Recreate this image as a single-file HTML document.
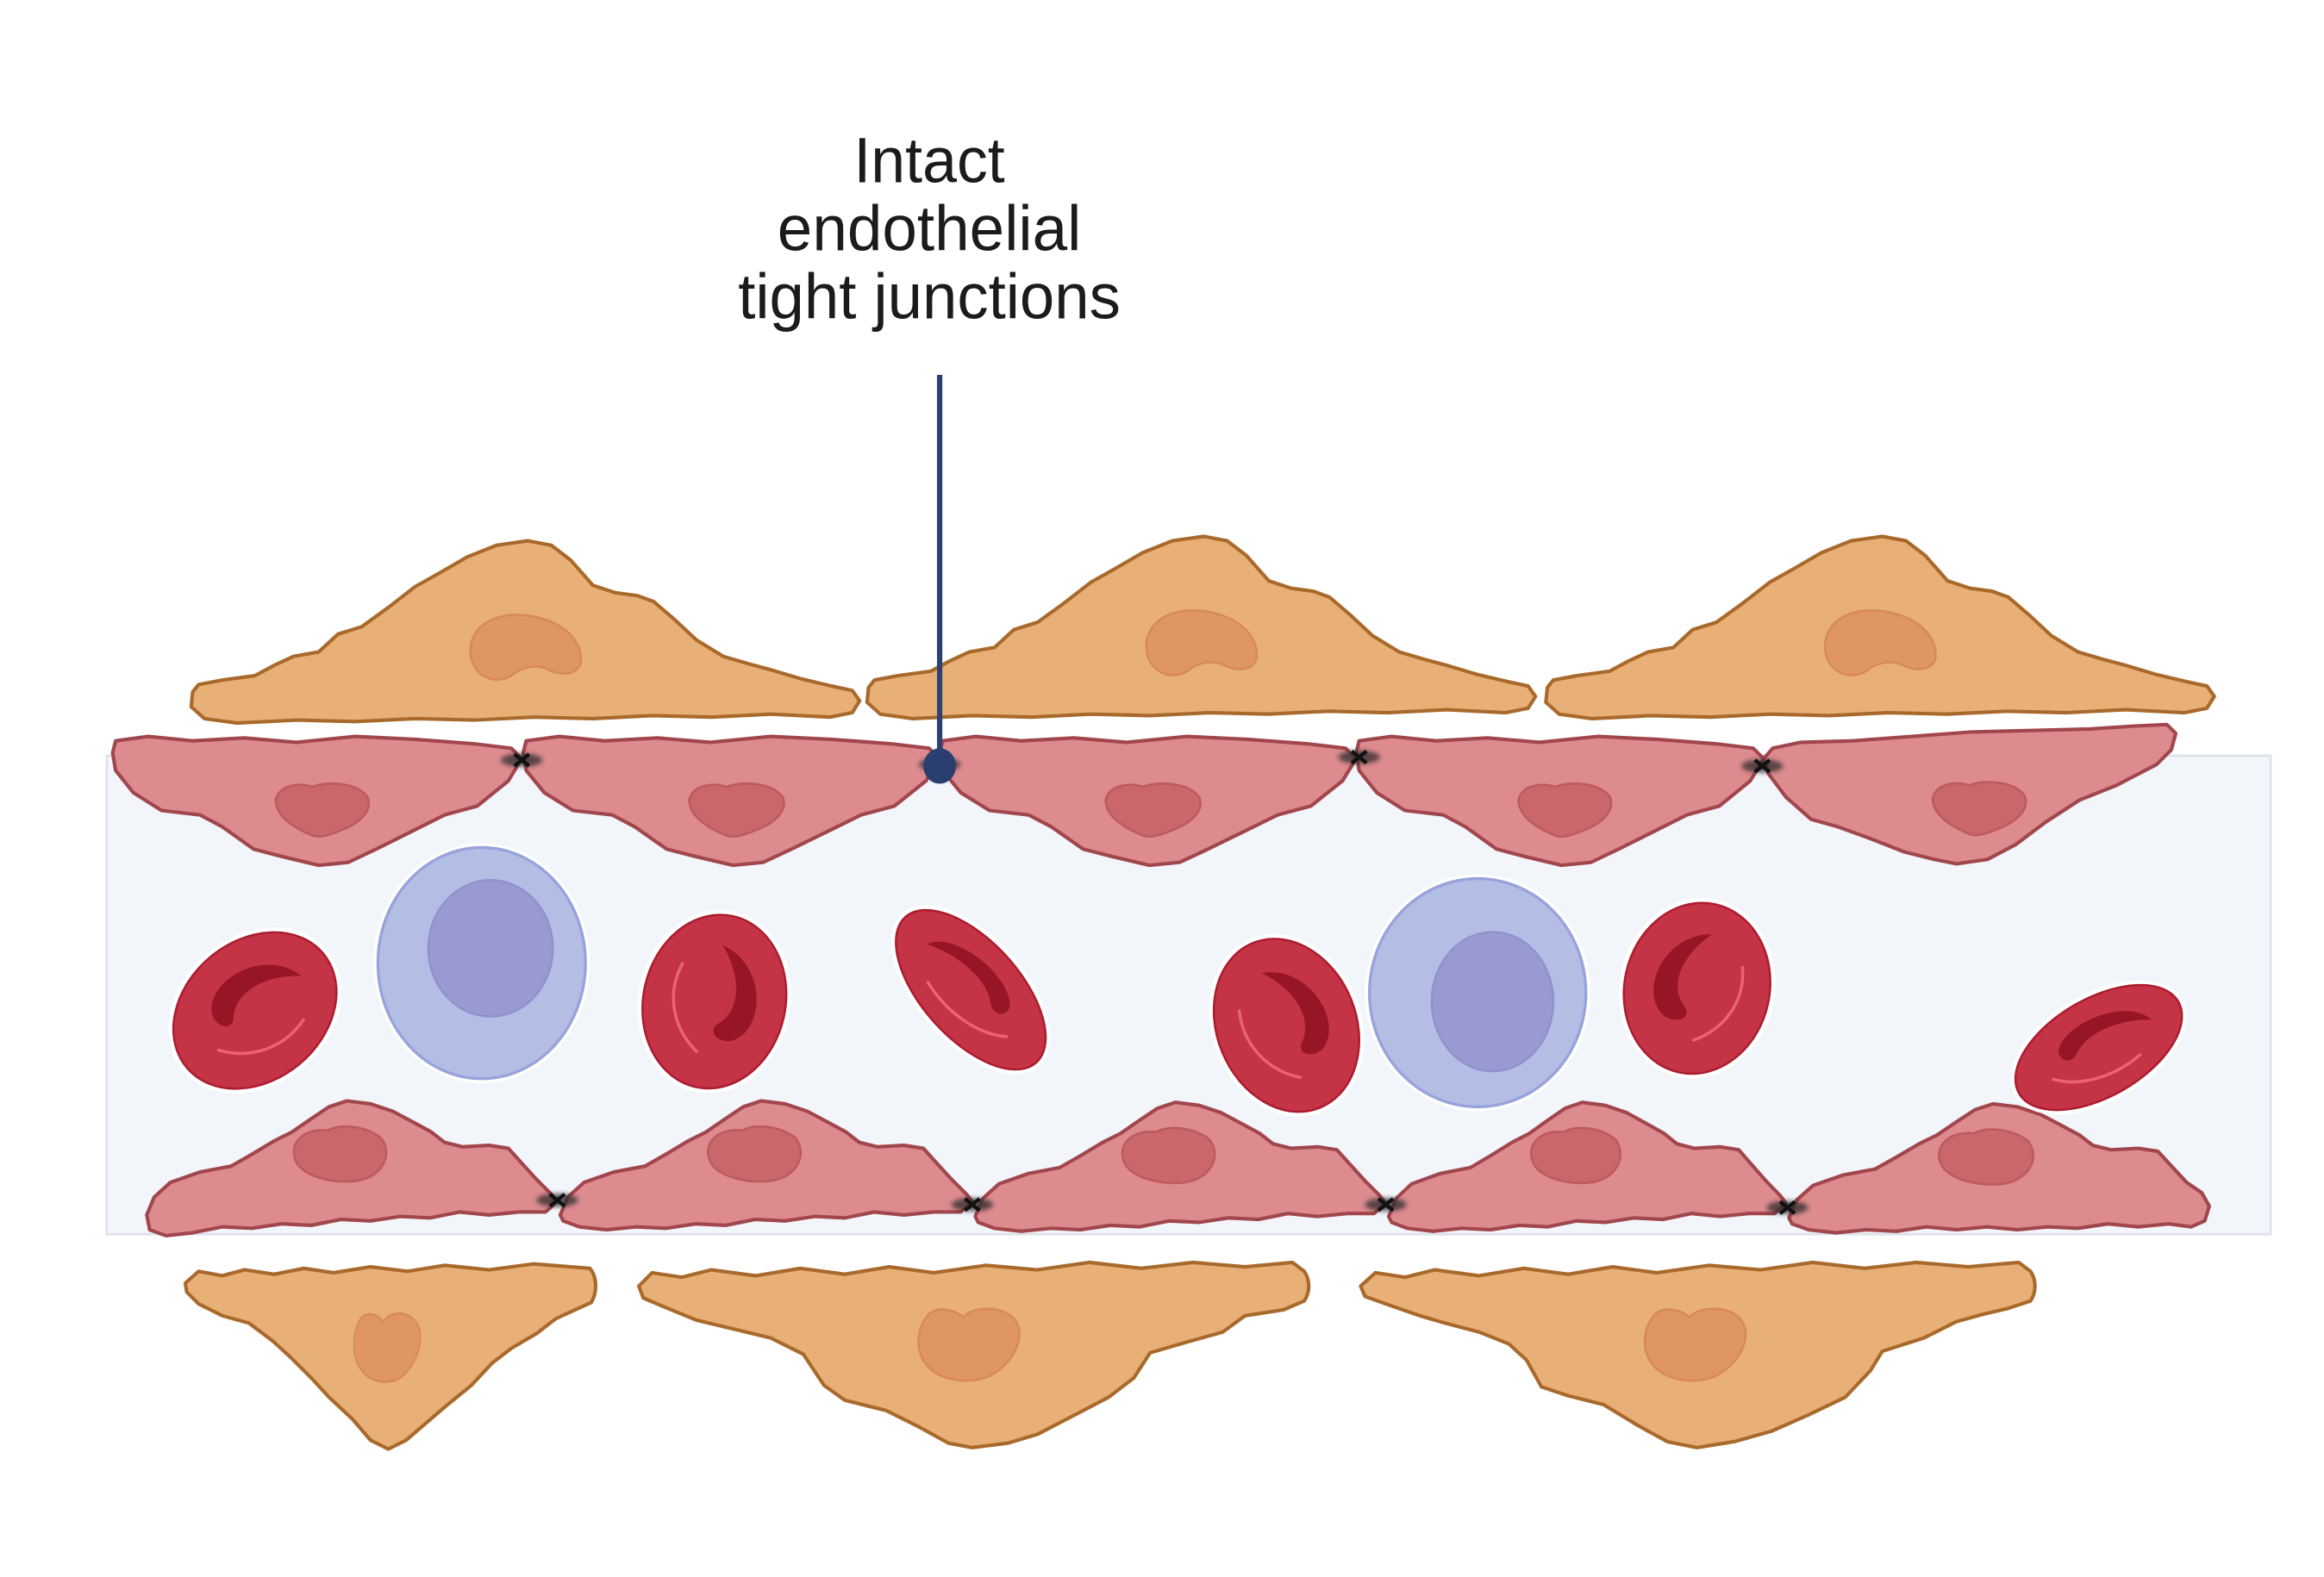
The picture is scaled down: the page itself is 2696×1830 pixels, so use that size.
<!DOCTYPE html>
<html>
<head>
<meta charset="utf-8">
<style>
  html,body{margin:0;padding:0;background:#ffffff;}
  svg{display:block;}
  text{font-family:"Liberation Sans", Arial, sans-serif; fill:#1b1b1b;}
</style>
</head>
<body>
<svg width="2696" height="1830" viewBox="0 0 1568 1064.33" preserveAspectRatio="none" xmlns="http://www.w3.org/2000/svg">
  <defs>
    <filter id="blur" x="-50%" y="-50%" width="200%" height="200%">
      <feGaussianBlur stdDeviation="1.6"/>
    </filter>
  </defs>

  <rect x="0" y="0" width="1568" height="1064.33" fill="#ffffff"/>

  <!-- vessel lumen panel -->
  <rect x="72" y="510" width="1460" height="323" fill="#f2f6fb" stroke="#dde2ea" stroke-width="1.5"/>

  <!-- top orange cells -->
  <g id="topcells" fill="#e8b077" stroke="#a9692b" stroke-width="2.4" stroke-linejoin="round">
    <g transform="translate(356,0)">
      <path d="M-222,462 L-206,459 L-184,456 L-171,449 L-158,443 L-141,440 L-128,428 L-112,423 L-94,410 L-76,396 L-60,387 L-41,376 L-21,368 L0,365 L16,368 L29,378 L44,395 L59,400 L74,402 L85,406 L99,418 L114,432 L132,443 L149,448 L164,452 L184,458 L205,463 L219,466 L224,473 L219,481 L204,484 L164,482 L124,484 L84,483 L44,485 L4,484 L-36,486 L-76,485 L-116,487 L-156,486 L-196,488 L-218,485 L-227,477 L-226,467 Z"/>
      <path d="M-38,445 C-42,425 -25,414 -5,415 C17,416 36,428 36,445 C36,455 24,457 14,452 C6,448 -4,450 -11,456 C-21,462 -34,458 -38,445 Z" fill="#df9660" stroke="#d88a55" stroke-width="1.5"/>
    </g>
    <g transform="translate(812,-3)">
      <path d="M-222,462 L-206,459 L-184,456 L-171,449 L-158,443 L-141,440 L-128,428 L-112,423 L-94,410 L-76,396 L-60,387 L-41,376 L-21,368 L0,365 L16,368 L29,378 L44,395 L59,400 L74,402 L85,406 L99,418 L114,432 L132,443 L149,448 L164,452 L184,458 L205,463 L219,466 L224,473 L219,481 L204,484 L164,482 L124,484 L84,483 L44,485 L4,484 L-36,486 L-76,485 L-116,487 L-156,486 L-196,488 L-218,485 L-227,477 L-226,467 Z"/>
      <path d="M-38,445 C-42,425 -25,414 -5,415 C17,416 36,428 36,445 C36,455 24,457 14,452 C6,448 -4,450 -11,456 C-21,462 -34,458 -38,445 Z" fill="#df9660" stroke="#d88a55" stroke-width="1.5"/>
    </g>
    <g transform="translate(1270,-3)">
      <path d="M-222,462 L-206,459 L-184,456 L-171,449 L-158,443 L-141,440 L-128,428 L-112,423 L-94,410 L-76,396 L-60,387 L-41,376 L-21,368 L0,365 L16,368 L29,378 L44,395 L59,400 L74,402 L85,406 L99,418 L114,432 L132,443 L149,448 L164,452 L184,458 L205,463 L219,466 L224,473 L219,481 L204,484 L164,482 L124,484 L84,483 L44,485 L4,484 L-36,486 L-76,485 L-116,487 L-156,486 L-196,488 L-218,485 L-227,477 L-226,467 Z"/>
      <path d="M-38,445 C-42,425 -25,414 -5,415 C17,416 36,428 36,445 C36,455 24,457 14,452 C6,448 -4,450 -11,456 C-21,462 -34,458 -38,445 Z" fill="#df9660" stroke="#d88a55" stroke-width="1.5"/>
    </g>
  </g>

  <!-- bottom orange cells -->
  <g fill="#e8b077" stroke="#a9692b" stroke-width="2.4" stroke-linejoin="round">
    <path d="M125,866 L134,858 L150,861 L165,857 L185,860 L205,856 L225,859 L250,855 L275,858 L300,854 L330,857 L360,853 L385,855 L398,856 C403,862 403,872 399,879 L388,884 L375,890 L362,900 L345,910 L332,920 L318,935 L302,948 L288,960 L274,972 L262,978 L250,972 L238,958 L222,943 L210,930 L196,916 L184,905 L168,893 L150,888 L134,880 L126,872 Z"/>
    <path d="M431,868 L440,859 L460,862 L480,857 L510,861 L540,856 L570,860 L600,855 L630,859 L665,854 L700,857 L735,852 L770,856 L805,852 L840,855 L872,852 L880,858 C884,864 884,872 880,878 L866,884 L840,888 L825,899 L800,906 L776,913 L765,930 L748,943 L725,955 L700,968 L680,974 L656,977 L640,974 L620,963 L598,952 L570,945 L556,935 L542,914 L520,903 L495,897 L470,891 L448,882 L434,876 Z"/>
    <path d="M918,868 L928,859 L948,862 L968,857 L998,861 L1028,856 L1058,860 L1088,855 L1118,859 L1153,854 L1188,857 L1223,852 L1258,856 L1293,852 L1328,855 L1362,852 L1370,858 C1374,864 1374,872 1370,878 L1355,883 L1338,887 L1320,892 L1298,903 L1270,912 L1262,925 L1245,943 L1220,955 L1195,966 L1170,973 L1145,977 L1125,973 L1105,962 L1082,948 L1058,942 L1040,936 L1030,918 L1018,907 L998,899 L975,893 L958,888 L935,880 L921,875 Z"/>
    <path d="M-30,-18 C-25,-26 -12,-24 -5,-18 C2,-26 22,-26 30,-16 C38,-4 28,14 12,22 C0,27 -20,26 -30,14 C-38,4 -36,-10 -30,-18 Z" transform="translate(262,909) scale(0.66,0.95)" fill="#df9660" stroke="#d88a55" stroke-width="1.5"/>
    <path d="M-30,-18 C-25,-26 -12,-24 -5,-18 C2,-26 22,-26 30,-16 C38,-4 28,14 12,22 C0,27 -20,26 -30,14 C-38,4 -36,-10 -30,-18 Z" transform="translate(655,907)" fill="#df9660" stroke="#d88a55" stroke-width="1.5"/>
    <path d="M-30,-18 C-25,-26 -12,-24 -5,-18 C2,-26 22,-26 30,-16 C38,-4 28,14 12,22 C0,27 -20,26 -30,14 C-38,4 -36,-10 -30,-18 Z" transform="translate(1145,907)" fill="#df9660" stroke="#d88a55" stroke-width="1.5"/>
  </g>

  <!-- upper endothelial row -->
  <g fill="#dd8b8f" stroke="#a1464c" stroke-width="2.4" stroke-linejoin="round">
    <g transform="translate(76,0)">
      <path d="M2,500 L24,497 L54,500 L89,498 L124,501 L164,497 L204,499 L244,502 L269,505 L276,512 L267,527 L246,544 L224,550 L204,560 L178,573 L159,582 L139,584 L114,578 L95,573 L74,558 L59,550 L33,547 L14,535 L2,520 L0,508 Z"/>
      <path d="M110,540 C112,530 125,528 135,531 C145,527 165,528 172,538 C176,548 165,556 155,560 C148,563 140,566 135,564 C125,560 110,552 110,540 Z" fill="#c9676c" stroke="#bd5a60" stroke-width="1.5"/>
    </g>
    <g transform="translate(353,0) scale(1.018,1)">
      <path d="M2,500 L24,497 L54,500 L89,498 L124,501 L164,497 L204,499 L244,502 L269,505 L276,512 L267,527 L246,544 L224,550 L204,560 L178,573 L159,582 L139,584 L114,578 L95,573 L74,558 L59,550 L33,547 L14,535 L2,520 L0,508 Z"/>
      <path d="M110,540 C112,530 125,528 135,531 C145,527 165,528 172,538 C176,548 165,556 155,560 C148,563 140,566 135,564 C125,560 110,552 110,540 Z" fill="#c9676c" stroke="#bd5a60" stroke-width="1.5"/>
    </g>
    <g transform="translate(634,0) scale(1.018,1)">
      <path d="M2,500 L24,497 L54,500 L89,498 L124,501 L164,497 L204,499 L244,502 L269,505 L276,512 L267,527 L246,544 L224,550 L204,560 L178,573 L159,582 L139,584 L114,578 L95,573 L74,558 L59,550 L33,547 L14,535 L2,520 L0,508 Z"/>
      <path d="M110,540 C112,530 125,528 135,531 C145,527 165,528 172,538 C176,548 165,556 155,560 C148,563 140,566 135,564 C125,560 110,552 110,540 Z" fill="#c9676c" stroke="#bd5a60" stroke-width="1.5"/>
    </g>
    <g transform="translate(915,0) scale(0.996,1)">
      <path d="M2,500 L24,497 L54,500 L89,498 L124,501 L164,497 L204,499 L244,502 L269,505 L276,512 L267,527 L246,544 L224,550 L204,560 L178,573 L159,582 L139,584 L114,578 L95,573 L74,558 L59,550 L33,547 L14,535 L2,520 L0,508 Z"/>
      <path d="M110,540 C112,530 125,528 135,531 C145,527 165,528 172,538 C176,548 165,556 155,560 C148,563 140,566 135,564 C125,560 110,552 110,540 Z" fill="#c9676c" stroke="#bd5a60" stroke-width="1.5"/>
    </g>
    <path d="M1190,512 L1196,505 L1215,501 L1250,500 L1290,497 L1330,494 L1370,493 L1410,492 L1440,490 L1462,489 L1468,495 L1465,506 L1455,516 L1428,530 L1403,540 L1380,555 L1360,570 L1341,580 L1320,583 L1305,580 L1285,575 L1262,566 L1240,558 L1222,553 L1205,538 L1193,522 Z"/>
    <g transform="translate(1194,-1)">
      <path d="M110,540 C112,530 125,528 135,531 C145,527 165,528 172,538 C176,548 165,556 155,560 C148,563 140,566 135,564 C125,560 110,552 110,540 Z" fill="#c9676c" stroke="#bd5a60" stroke-width="1.5"/>
    </g>
  </g>

  <!-- lower endothelial row -->
  <g fill="#dd8b8f" stroke="#a1464c" stroke-width="2.4" stroke-linejoin="round">
    <g transform="translate(97,0)">
      <path d="M2,820 L7,808 L18,798 L38,791 L59,787 L73,779 L88,770 L100,764 L113,755 L125,747 L137,743 L153,745 L168,750 L183,758 L194,764 L203,771 L215,774 L233,773 L246,775 L255,785 L265,796 L275,806 L279,811 L271,818 L253,818 L233,820 L213,818 L193,822 L173,821 L153,824 L133,823 L113,827 L93,826 L73,829 L53,828 L33,832 L15,834 L4,830 Z"/>
      <path d="M102,782 C98,770 110,761 124,763 C133,758 150,760 160,768 C168,778 162,792 148,796 C135,800 106,796 102,782 Z" fill="#c9676c" stroke="#bd5a60" stroke-width="1.5"/>
    </g>
    <g transform="translate(376,0) scale(1.004,1)">
      <path d="M2,820 L7,808 L18,798 L38,791 L59,787 L73,779 L88,770 L100,764 L113,755 L125,747 L137,743 L153,745 L168,750 L183,758 L194,764 L203,771 L215,774 L233,773 L246,775 L255,785 L265,796 L275,806 L279,811 L271,818 L253,818 L233,820 L213,818 L193,822 L173,821 L153,824 L133,823 L113,827 L93,826 L73,829 L53,828 L33,830 L15,828 L4,824 Z"/>
      <path d="M102,782 C98,770 110,761 124,763 C133,758 150,760 160,768 C168,778 162,792 148,796 C135,800 106,796 102,782 Z" fill="#c9676c" stroke="#bd5a60" stroke-width="1.5"/>
    </g>
    <g transform="translate(656,1)">
      <path d="M2,820 L7,808 L18,798 L38,791 L59,787 L73,779 L88,770 L100,764 L113,755 L125,747 L137,743 L153,745 L168,750 L183,758 L194,764 L203,771 L215,774 L233,773 L246,775 L255,785 L265,796 L275,806 L279,811 L271,818 L253,818 L233,820 L213,818 L193,822 L173,821 L153,824 L133,823 L113,827 L93,826 L73,829 L53,828 L33,830 L15,828 L4,824 Z"/>
      <path d="M102,782 C98,770 110,761 124,763 C133,758 150,760 160,768 C168,778 162,792 148,796 C135,800 106,796 102,782 Z" fill="#c9676c" stroke="#bd5a60" stroke-width="1.5"/>
    </g>
    <g transform="translate(935,1) scale(0.968,1)">
      <path d="M2,820 L7,808 L18,798 L38,791 L59,787 L73,779 L88,770 L100,764 L113,755 L125,747 L137,743 L153,745 L168,750 L183,758 L194,764 L203,771 L215,774 L233,773 L246,775 L255,785 L265,796 L275,806 L279,811 L271,818 L253,818 L233,820 L213,818 L193,822 L173,821 L153,824 L133,823 L113,827 L93,826 L73,829 L53,828 L33,830 L15,828 L4,824 Z"/>
      <path d="M102,782 C98,770 110,761 124,763 C133,758 150,760 160,768 C168,778 162,792 148,796 C135,800 106,796 102,782 Z" fill="#c9676c" stroke="#bd5a60" stroke-width="1.5"/>
    </g>
    <g transform="translate(1205,2) scale(1.02,1)">
      <path d="M2,820 L7,808 L18,798 L38,791 L59,787 L73,779 L88,770 L100,764 L113,755 L125,747 L137,743 L153,745 L168,750 L183,758 L194,764 L203,771 L215,774 L233,773 L246,775 L255,785 L265,796 L275,803 L280,812 L277,822 L268,826 L253,824 L233,826 L213,824 L193,827 L173,826 L153,828 L133,826 L113,828 L93,826 L73,829 L53,828 L33,830 L15,828 L4,824 Z"/>
      <path d="M102,782 C98,770 110,761 124,763 C133,758 150,760 160,768 C168,778 162,792 148,796 C135,800 106,796 102,782 Z" fill="#c9676c" stroke="#bd5a60" stroke-width="1.5"/>
    </g>
  </g>

  <!-- tight junctions -->
  <g>
    <g transform="translate(352,513)">
      <ellipse rx="14" ry="4.5" fill="#2a2a2a" opacity="0.75" filter="url(#blur)"/>
      <path d="M-5,-4 L5,4 M-5,4 L5,-4" stroke="#111" stroke-width="2.5"/>
    </g>
    <g transform="translate(634,516)">
      <ellipse rx="14" ry="4.5" fill="#2a2a2a" opacity="0.75" filter="url(#blur)"/>
    </g>
    <g transform="translate(917,511)">
      <ellipse rx="14" ry="4.5" fill="#2a2a2a" opacity="0.75" filter="url(#blur)"/>
      <path d="M-5,-4 L5,4 M-5,4 L5,-4" stroke="#111" stroke-width="2.5"/>
    </g>
    <g transform="translate(1189,517)">
      <ellipse rx="14" ry="4.5" fill="#2a2a2a" opacity="0.75" filter="url(#blur)"/>
      <path d="M-5,-4 L5,4 M-5,4 L5,-4" stroke="#111" stroke-width="2.5"/>
    </g>
    <g transform="translate(376,810)">
      <ellipse rx="14" ry="4.5" fill="#2a2a2a" opacity="0.75" filter="url(#blur)"/>
      <path d="M-5,-4 L5,4 M-5,4 L5,-4" stroke="#111" stroke-width="2.5"/>
    </g>
    <g transform="translate(656,813)">
      <ellipse rx="14" ry="4.5" fill="#2a2a2a" opacity="0.75" filter="url(#blur)"/>
      <path d="M-5,-4 L5,4 M-5,4 L5,-4" stroke="#111" stroke-width="2.5"/>
    </g>
    <g transform="translate(935,813)">
      <ellipse rx="14" ry="4.5" fill="#2a2a2a" opacity="0.75" filter="url(#blur)"/>
      <path d="M-5,-4 L5,4 M-5,4 L5,-4" stroke="#111" stroke-width="2.5"/>
    </g>
    <g transform="translate(1206,815)">
      <ellipse rx="14" ry="4.5" fill="#2a2a2a" opacity="0.75" filter="url(#blur)"/>
      <path d="M-5,-4 L5,4 M-5,4 L5,-4" stroke="#111" stroke-width="2.5"/>
    </g>
  </g>

  <!-- white blood cells -->
  <g>
    <ellipse cx="325" cy="650" rx="73" ry="81" fill="#ffffff"/>
    <ellipse cx="325" cy="650" rx="70" ry="78" fill="#b4bee4" stroke="#98a3dc" stroke-width="2"/>
    <ellipse cx="331" cy="640" rx="42" ry="46" fill="#9a9ad3" stroke="#8f92cd" stroke-width="1.5"/>

    <ellipse cx="997" cy="670" rx="76" ry="80" fill="#ffffff"/>
    <ellipse cx="997" cy="670" rx="73" ry="77" fill="#b4bee4" stroke="#98a3dc" stroke-width="2"/>
    <ellipse cx="1007" cy="676" rx="41" ry="47" fill="#9a9ad3" stroke="#8f92cd" stroke-width="1.5"/>
  </g>

  <!-- red blood cells -->
  <g>
    <g transform="translate(172,682) rotate(50) scale(47,60)">
      <ellipse rx="1.07" ry="1.055" fill="#ffffff"/>
      <ellipse rx="1" ry="1" fill="#c43446" stroke="#ab1c2e" stroke-width="2.5" vector-effect="non-scaling-stroke"/>
      <path d="M0.05,-0.65 C-0.6,-0.55 -0.8,0.2 -0.35,0.4 C-0.15,0.45 0,0.35 -0.1,0.25 C-0.4,0.05 -0.3,-0.35 0.05,-0.65Z" fill="#961628"/>
      <path d="M0.55,-0.35 C0.68,0 0.52,0.38 0.1,0.6" fill="none" stroke="#ea6474" stroke-width="3.5" stroke-linecap="round" vector-effect="non-scaling-stroke"/>
    </g>
    <g transform="translate(482,676) rotate(12) scale(-48,59)">
      <ellipse rx="1.07" ry="1.055" fill="#ffffff"/>
      <ellipse rx="1" ry="1" fill="#c43446" stroke="#ab1c2e" stroke-width="2.5" vector-effect="non-scaling-stroke"/>
      <path d="M0.05,-0.65 C-0.6,-0.55 -0.8,0.2 -0.35,0.4 C-0.15,0.45 0,0.35 -0.1,0.25 C-0.4,0.05 -0.3,-0.35 0.05,-0.65Z" fill="#961628"/>
      <path d="M0.55,-0.35 C0.68,0 0.52,0.38 0.1,0.6" fill="none" stroke="#ea6474" stroke-width="3.5" stroke-linecap="round" vector-effect="non-scaling-stroke"/>
    </g>
    <g transform="translate(655,668) rotate(-42) scale(-33,66)">
      <ellipse rx="1.1" ry="1.05" fill="#ffffff"/>
      <ellipse rx="1" ry="1" fill="#c43446" stroke="#ab1c2e" stroke-width="2.5" vector-effect="non-scaling-stroke"/>
      <path d="M0.05,-0.65 C-0.6,-0.55 -0.8,0.2 -0.35,0.4 C-0.15,0.45 0,0.35 -0.1,0.25 C-0.4,0.05 -0.3,-0.35 0.05,-0.65Z" fill="#961628"/>
      <path d="M0.55,-0.35 C0.68,0 0.52,0.38 0.1,0.6" fill="none" stroke="#ea6474" stroke-width="3.5" stroke-linecap="round" vector-effect="non-scaling-stroke"/>
    </g>
    <g transform="translate(868,692) rotate(-22) scale(-47,60)">
      <ellipse rx="1.07" ry="1.055" fill="#ffffff"/>
      <ellipse rx="1" ry="1" fill="#c43446" stroke="#ab1c2e" stroke-width="2.5" vector-effect="non-scaling-stroke"/>
      <path d="M0.05,-0.65 C-0.6,-0.55 -0.8,0.2 -0.35,0.4 C-0.15,0.45 0,0.35 -0.1,0.25 C-0.4,0.05 -0.3,-0.35 0.05,-0.65Z" fill="#961628"/>
      <path d="M0.55,-0.35 C0.68,0 0.52,0.38 0.1,0.6" fill="none" stroke="#ea6474" stroke-width="3.5" stroke-linecap="round" vector-effect="non-scaling-stroke"/>
    </g>
    <g transform="translate(1145,667) rotate(12) scale(49,58)">
      <ellipse rx="1.07" ry="1.055" fill="#ffffff"/>
      <ellipse rx="1" ry="1" fill="#c43446" stroke="#ab1c2e" stroke-width="2.5" vector-effect="non-scaling-stroke"/>
      <path d="M0.05,-0.65 C-0.6,-0.55 -0.8,0.2 -0.35,0.4 C-0.15,0.45 0,0.35 -0.1,0.25 C-0.4,0.05 -0.3,-0.35 0.05,-0.65Z" fill="#961628"/>
      <path d="M0.55,-0.35 C0.68,0 0.52,0.38 0.1,0.6" fill="none" stroke="#ea6474" stroke-width="3.5" stroke-linecap="round" vector-effect="non-scaling-stroke"/>
    </g>
    <g transform="translate(1416,707) rotate(60) scale(33,62)">
      <ellipse rx="1.1" ry="1.05" fill="#ffffff"/>
      <ellipse rx="1" ry="1" fill="#c43446" stroke="#ab1c2e" stroke-width="2.5" vector-effect="non-scaling-stroke"/>
      <path d="M0.05,-0.65 C-0.6,-0.55 -0.8,0.2 -0.35,0.4 C-0.15,0.45 0,0.35 -0.1,0.25 C-0.4,0.05 -0.3,-0.35 0.05,-0.65Z" fill="#961628"/>
      <path d="M0.55,-0.35 C0.68,0 0.52,0.38 0.1,0.6" fill="none" stroke="#ea6474" stroke-width="3.5" stroke-linecap="round" vector-effect="non-scaling-stroke"/>
    </g>
  </g>

  <!-- pointer -->
  <line x1="634" y1="253" x2="634" y2="516" stroke="#2d4172" stroke-width="3.6"/>
  <ellipse cx="634" cy="517" rx="11" ry="12" fill="#2a3f70"/>

  <!-- label -->
  <text x="627" y="123" font-size="43" text-anchor="middle" textLength="102" lengthAdjust="spacingAndGlyphs">Intact</text>
  <text x="627" y="169" font-size="43" text-anchor="middle" textLength="205" lengthAdjust="spacingAndGlyphs">endothelial</text>
  <text x="627" y="215" font-size="43" text-anchor="middle" textLength="258" lengthAdjust="spacingAndGlyphs">tight junctions</text>
</svg>
</body>
</html>
